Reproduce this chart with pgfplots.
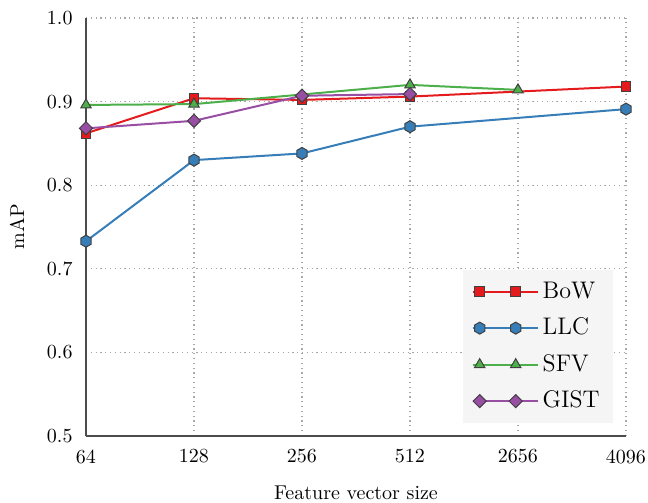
\documentclass[border=0pt]{standalone}
\usepackage{pgfplots}
\pgfplotsset{compat=1.18}
\usetikzlibrary{calc}
\definecolor{cred}{HTML}{E41A1C}
\definecolor{cblue}{HTML}{377EB8}
\definecolor{cgreen}{HTML}{4DAF4A}
\definecolor{cpurple}{HTML}{984EA3}
\definecolor{legbg}{HTML}{F5F5F5}
\pgfdeclareplotmark{hexagon*}{%
  \pgfpathmoveto{\pgfqpointpolar{90}{\pgfplotmarksize}}%
  \pgfpathlineto{\pgfqpointpolar{150}{\pgfplotmarksize}}%
  \pgfpathlineto{\pgfqpointpolar{210}{\pgfplotmarksize}}%
  \pgfpathlineto{\pgfqpointpolar{270}{\pgfplotmarksize}}%
  \pgfpathlineto{\pgfqpointpolar{330}{\pgfplotmarksize}}%
  \pgfpathlineto{\pgfqpointpolar{30}{\pgfplotmarksize}}%
  \pgfpathclose\pgfusepathqfillstroke}
\pgfdeclareplotmark{rdiamond*}{%
  \pgfpathmoveto{\pgfqpoint{0pt}{\pgfplotmarksize}}%
  \pgfpathlineto{\pgfqpoint{\pgfplotmarksize}{0pt}}%
  \pgfpathlineto{\pgfqpoint{0pt}{-\pgfplotmarksize}}%
  \pgfpathlineto{\pgfqpoint{-\pgfplotmarksize}{0pt}}%
  \pgfpathclose\pgfusepathqfillstroke}
\begin{document}
\begin{tikzpicture}
\begin{axis}[
  width=270pt, height=209pt, scale only axis,
  xmin=0, xmax=5, ymin=0.5, ymax=1.0,
  xtick={0,1,2,3,4,5},
  xticklabels={64,128,256,512,2656,4096},
  ytick={0.5,0.6,0.7,0.8,0.9,1.0},
  yticklabel style={/pgf/number format/fixed, /pgf/number format/fixed zerofill, /pgf/number format/precision=1, xshift=-3.2pt},
  major tick length=0pt,
  xticklabel style={yshift=-3.2pt},
  axis x line*=bottom, axis y line*=left,
  axis line style={black!70, line width=0.6pt, -},
  grid=major,
  major grid style={black!35, line width=0.6pt, dash pattern=on 0.6pt off 1.8pt},
  xlabel={Feature vector size},
  ylabel={mAP},
  xlabel style={at={(axis description cs:0.5,-0.136)}, anchor=center},
  ylabel style={at={(axis description cs:-0.128,0.5)}, anchor=center},
  legend cell align=left,
  legend style={at={(rel axis cs:0.976,0.031)}, anchor=south east,
    fill=legbg, draw=none, font=\large,
    row sep=3.75pt, inner xsep=4.5pt, inner ysep=3.5pt,
    nodes={text height=8.5pt, text depth=2pt, inner sep=2pt}},
  legend image code/.code={\path (-3.5pt,0pt) -- (29pt,0pt);\draw[#1] plot coordinates {(0pt,0pt) (18pt,0pt)};},
  every axis plot/.append style={line width=1pt},
]
\addplot[color=cred, mark=square*, mark size=2.4pt, mark options={fill=cred, draw=black!75, line width=0.5pt}]
  coordinates {(0,0.862) (1,0.904) (2,0.902) (3,0.906) (5,0.918)};
\addlegendentry{BoW}
\addplot[color=cblue, mark=hexagon*, mark size=3pt, mark options={fill=cblue, draw=black!75, line width=0.5pt}]
  coordinates {(0,0.733) (1,0.830) (2,0.838) (3,0.870) (5,0.891)};
\addlegendentry{LLC}
\addplot[color=cgreen, mark=triangle*, mark size=3pt, mark options={fill=cgreen, draw=black!75, line width=0.5pt}]
  coordinates {(0,0.896) (1,0.897) (3,0.920) (4,0.914)};
\addlegendentry{SFV}
\addplot[color=cpurple, mark=rdiamond*, mark size=3.3pt, mark options={fill=cpurple, draw=black!75, line width=0.5pt}]
  coordinates {(0,0.868) (1,0.877) (2,0.907) (3,0.909)};
\addlegendentry{GIST}
\path (rel axis cs:0,0) coordinate (sw) (rel axis cs:1,1) coordinate (ne);
\end{axis}
\pgfresetboundingbox
\path ($(sw)+(-43pt,-33.5pt)$) rectangle ($(ne)+(11pt,9pt)$);
\end{tikzpicture}
\end{document}
